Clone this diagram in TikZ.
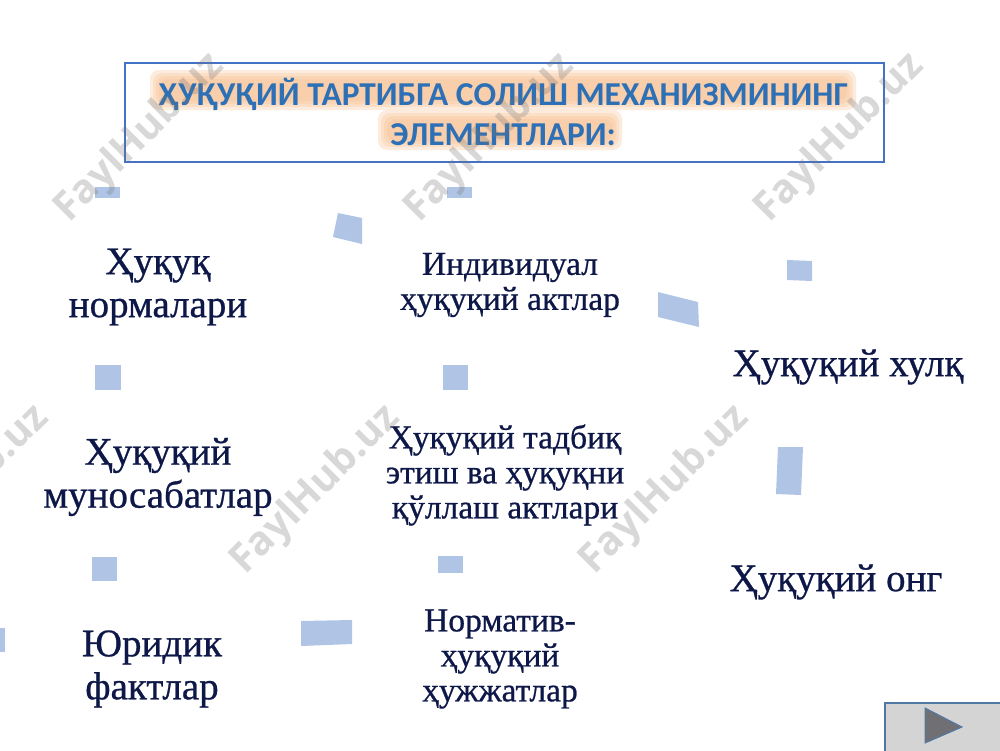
\documentclass[tikz,border=0pt]{standalone}
\usepackage{fontspec}
\setmainfont{Liberation Serif}
\newfontfamily\bodyfont[FakeBold=0.7]{Liberation Serif}
\newfontfamily\titlefont{Carlito}
\newfontfamily\wmfont{Open Sans}
\definecolor{titleblue}{RGB}{46,112,182}
\definecolor{navy}{RGB}{14,24,72}
\definecolor{boxblue}{RGB}{68,114,196}
\definecolor{tile}{RGB}{176,197,230}
\definecolor{glow}{RGB}{248,190,140}
\definecolor{btnfill}{RGB}{212,212,212}
\definecolor{btnedge}{RGB}{80,120,165}
\definecolor{btntri}{RGB}{112,112,116}
\tikzset{
  bigtext/.style={text=navy, align=center, inner sep=0pt, font=\bodyfont\fontsize{39}{43}\selectfont},
  smalltext/.style={text=navy, align=center, inner sep=0pt, font=\bodyfont\fontsize{33.5}{35}\selectfont},
  tilebox/.style={fill=tile, draw=none},
  wmark/.style={text=black!55, opacity=0.28, rotate=45, inner sep=0pt, font=\wmfont\bfseries\fontsize{40}{40}\selectfont},
  glowband/.style={fill=glow, opacity=0.28, rounded corners=9pt}
}
\begin{document}
\begin{tikzpicture}[x=1pt,y=-1pt]
\useasboundingbox (0,0) rectangle (1000,750);
\fill[white] (0,0) rectangle (1000,750);

% title box
\draw[boxblue, line width=1.3pt] (125,63) rectangle (884,162);
\foreach \d in {0,3,6,9}{
  \fill[glowband] (150+\d,70+\d) rectangle (856-\d,110-\d);
  \fill[glowband] (378+\d,110+\d) rectangle (622-\d,150-\d);
}
\node[text=titleblue, align=center, inner sep=0pt, font=\titlefont\bfseries\fontsize{33.4}{40}\selectfont] (title) at (503,112)
  {ҲУҚУҚИЙ ТАРТИБГА СОЛИШ МЕХАНИЗМИНИНГ\\ЭЛЕМЕНТЛАРИ:};

% tiles (remnants of connectors)
\fill[tilebox] (95,187) rectangle (120,198);
\fill[tilebox] (338,213) -- (362,218) -- (362,244) -- (333,237) -- cycle;
\fill[tilebox] (447,187) rectangle (472,198);
\fill[tilebox] (658,292) -- (698,302) -- (699,327) -- (658,317) -- cycle;
\fill[tilebox] (787,260) -- (812,261) -- (812,281) -- (787,280) -- cycle;
\fill[tilebox] (778,447) -- (803,447) -- (801,495) -- (776,494) -- cycle;
\fill[tilebox] (95,365) rectangle (121,390);
\fill[tilebox] (443,365) rectangle (468,390);
\fill[tilebox] (92,557) rectangle (117,581);
\fill[tilebox] (0,628) rectangle (5,652);
\fill[tilebox] (301,621) -- (352,620) -- (352,644) -- (301,646) -- cycle;
\fill[tilebox] (438,556) rectangle (463,573);

% texts
\node[bigtext] (norms) at (158,287) {Ҳуқуқ\\нормалари};
\node[smalltext] (indiv) at (510,285) {Индивидуал\\ҳуқуқий актлар};
\node[bigtext] (behav) at (848,367) {Ҳуқуқий хулқ};
\node[bigtext] (relat) at (158,477) {Ҳуқуқий\\муносабатлар};
\node[smalltext] (apply) at (505,475) {Ҳуқуқий тадбиқ\\этиш ва ҳуқуқни\\қўллаш актлари};
\node[bigtext] (consc) at (836,582) {Ҳуқуқий онг};
\node[bigtext] (facts) at (152,669) {Юридик\\фактлар};
\node[smalltext] (normdoc) at (500,659) {Норматив-\\ҳуқуқий\\ҳужжатлар};

% button
\draw[fill=btnfill, draw=btnedge, line width=1.5pt] (885,703) rectangle (1003,753);
\draw[fill=btntri, draw=btnedge, line width=1pt] (925,708) -- (962,727) -- (925,743) -- cycle;

% watermarks
\node[wmark] (wm1) at (140,138) {FaylHub.uz};
\node[wmark] (wm2) at (490,138) {FaylHub.uz};
\node[wmark] (wm3) at (840,138) {FaylHub.uz};
\node[wmark] (wm4) at (-35,490) {FaylHub.uz};
\node[wmark] (wm5) at (316,490) {FaylHub.uz};
\node[wmark] (wm6) at (665,490) {FaylHub.uz};
\end{tikzpicture}
\end{document}
